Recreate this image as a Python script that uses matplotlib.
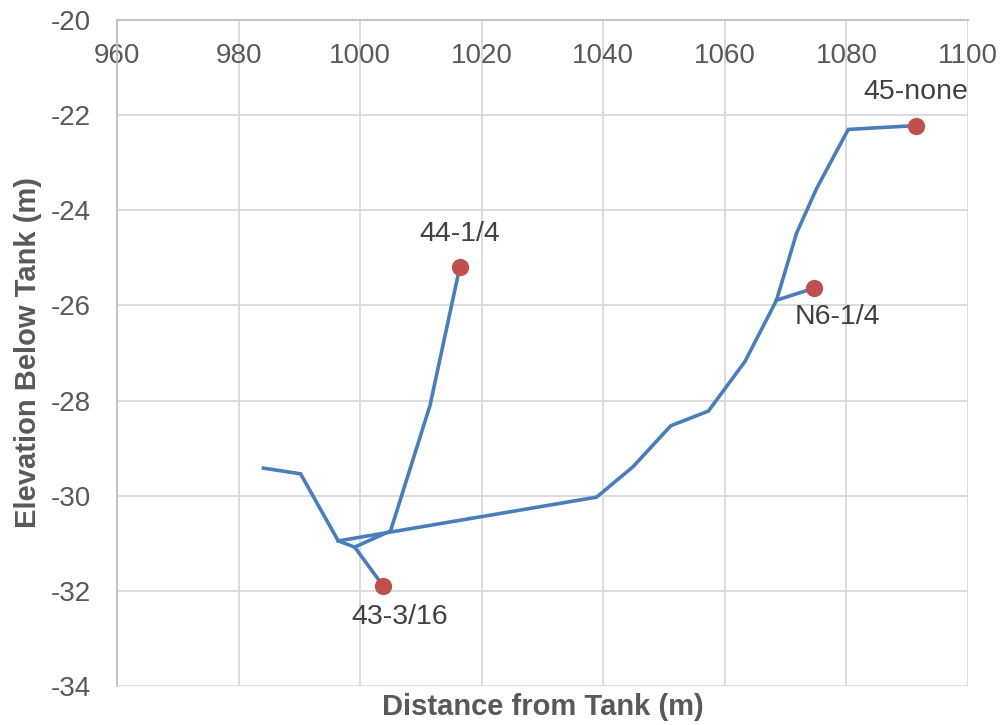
import matplotlib
matplotlib.use("Agg")
import matplotlib.pyplot as plt

# Data
main_x = [984.1, 990.2, 996.4, 1038.9, 1044.9, 1051.1, 1057.3, 1063.3, 1068.5, 1071.8, 1075.1, 1080.3, 1091.4]
main_y = [-29.42, -29.54, -30.95, -30.03, -29.39, -28.53, -28.22, -27.18, -25.89, -24.48, -23.54, -22.30, -22.22]
b43_x = [996.4, 999.1, 1003.8]
b43_y = [-30.95, -31.08, -31.90]
b44_x = [999.1, 1005.0, 1011.5, 1016.4]
b44_y = [-31.08, -30.74, -28.10, -25.19]
bn6_x = [1068.5, 1074.6]
bn6_y = [-25.89, -25.64]

end_names = ["43-3/16", "44-1/4", "N6-1/4", "45-none"]
end_x = [1003.8, 1016.4, 1074.6, 1091.4]
end_y = [-31.90, -25.19, -25.64, -22.22]
label_offsets = [(12, -22), (0, 24), (17, -21), (0, 24)]  # points

xticks = [960, 980, 1000, 1020, 1040, 1060, 1080, 1100]
yticks = [-34, -32, -30, -28, -26, -24, -22, -20]

plt.rcParams['font.family'] = ['Liberation Sans', 'DejaVu Sans']
plt.rcParams['axes.unicode_minus'] = False

fig = plt.figure(figsize=(10.05, 7.25), dpi=100)
ax = fig.add_axes([117/1005, 1 - 686/725, (968 - 117)/1005, (686 - 20)/725])

line_c = '#4A7EBB'
mark_c = '#C0504D'
text_c = '#595959'
grid_c = '#D9D9D9'

for xs, ys in [(main_x, main_y), (b43_x, b43_y), (b44_x, b44_y), (bn6_x, bn6_y)]:
    ax.plot(xs, ys, color=line_c, lw=2.6, solid_joinstyle='miter', zorder=3)

ax.scatter(end_x, end_y, s=155, color=mark_c, zorder=4, linewidths=0)
for name, x, y, off in zip(end_names, end_x, end_y, label_offsets):
    ax.annotate(name, (x, y), xytext=off, textcoords='offset points',
                ha='center', va='center', fontsize=20.5, color='#404040', zorder=5)

ax.set_xlim(960, 1100)
ax.set_ylim(-34, -20)
ax.set_xticks(xticks)
ax.set_yticks(yticks)
ax.grid(True, color=grid_c, lw=1.3, zorder=0)
ax.set_axisbelow(True)

for side in ['right', 'bottom']:
    ax.spines[side].set_visible(False)
for side in ['left', 'top']:
    ax.spines[side].set_color('#BFBFBF')
    ax.spines[side].set_linewidth(1.3)

ax.tick_params(axis='x', top=True, bottom=False, labeltop=True, labelbottom=False,
               length=0, pad=-35, labelsize=20, labelcolor=text_c)
ax.tick_params(axis='y', length=0, pad=19, labelsize=20, labelcolor=text_c)

ax.set_xlabel('Distance from Tank (m)', fontsize=21, fontweight='bold', color=text_c, labelpad=5)
ax.set_ylabel('Elevation Below Tank (m)', fontsize=21, fontweight='bold', color=text_c, labelpad=6)

fig.savefig('out.png', dpi=100, facecolor='white')
